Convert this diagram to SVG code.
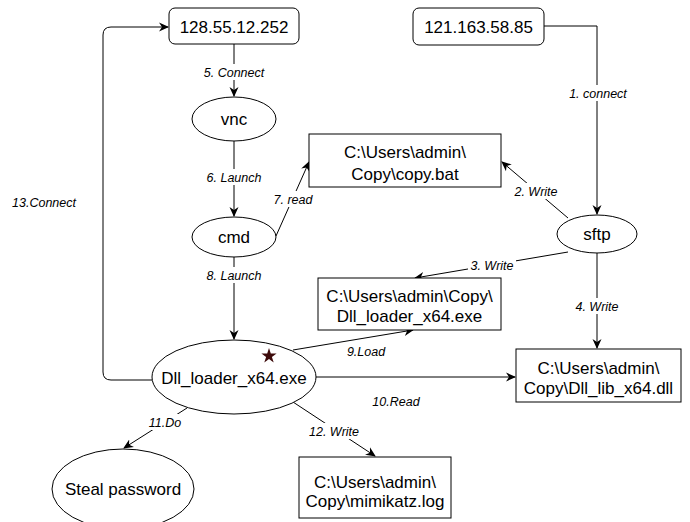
<svg xmlns="http://www.w3.org/2000/svg" width="690" height="522" viewBox="0 0 690 522">
  <style>
    .shape { fill: #ffffff; stroke: #000000; stroke-width: 1; }
    .node-text { font-family: "Liberation Sans", Arial, sans-serif; font-size: 17px; fill: #000000; text-anchor: middle; }
    .edge { fill: none; stroke: #000000; stroke-width: 1; }
    .edge-label { font-family: "Liberation Sans", Arial, sans-serif; font-size: 12.5px; font-style: italic; fill: #000000; text-anchor: middle; }
    .label-bg { fill: #ffffff; }
  </style>
  <defs>
    <marker id="arrow" viewBox="0 0 10 10" refX="9" refY="5" markerWidth="10" markerHeight="10" markerUnits="userSpaceOnUse" orient="auto">
      <path d="M0,0.5 L10,5 L0,9.5 L3,5 Z" fill="#000000"/>
    </marker>
  </defs>
  <rect width="690" height="522" fill="#ffffff"/>

  <!-- connectors -->
  <g id="connectors">
    <path class="edge" d="M234,44 L234,96" marker-end="url(#arrow)"/>
    <path class="edge" d="M544,26 L597,26 L597,214" marker-end="url(#arrow)"/>
    <path class="edge" d="M234,141 L234,216" marker-end="url(#arrow)"/>
    <path class="edge" d="M276,236 L309,162" marker-end="url(#arrow)"/>
    <path class="edge" d="M568,218 L502,162" marker-end="url(#arrow)"/>
    <path class="edge" d="M568,252 L415,278" marker-end="url(#arrow)"/>
    <path class="edge" d="M597,253 L597,348" marker-end="url(#arrow)"/>
    <path class="edge" d="M234,257 L234,339" marker-end="url(#arrow)"/>
    <path class="edge" d="M293,350 L413,330" marker-end="url(#arrow)"/>
    <path class="edge" d="M316,377 L515,377" marker-end="url(#arrow)"/>
    <path class="edge" d="M152,380 L111,380 Q103,380 103,372 L103,35 Q103,27 111,27 L168,27" marker-end="url(#arrow)"/>
    <path class="edge" d="M187,408 L124,448" marker-end="url(#arrow)"/>
    <path class="edge" d="M293,402 L375,456" marker-end="url(#arrow)"/>

    <!-- connector labels -->
    <rect class="label-bg" x="200" y="64" width="68" height="16"/>
    <text class="edge-label" x="234" y="76.5">5. Connect</text>
    <rect class="label-bg" x="566" y="85" width="64" height="16"/>
    <text class="edge-label" x="598" y="97.5">1. connect</text>
    <rect class="label-bg" x="204" y="169" width="60" height="16"/>
    <text class="edge-label" x="234" y="181.5">6. Launch</text>
    <rect class="label-bg" x="272" y="191" width="42" height="16"/>
    <text class="edge-label" x="293" y="203.5">7. read</text>
    <rect class="label-bg" x="512" y="183" width="48" height="16"/>
    <text class="edge-label" x="536" y="195.5">2. Write</text>
    <rect class="label-bg" x="468" y="257" width="48" height="16"/>
    <text class="edge-label" x="492" y="269.5">3. Write</text>
    <rect class="label-bg" x="573" y="298" width="48" height="16"/>
    <text class="edge-label" x="597" y="310.5">4. Write</text>
    <rect class="label-bg" x="204" y="267" width="60" height="16"/>
    <text class="edge-label" x="234" y="279.5">8. Launch</text>
    <text class="edge-label" x="366" y="355.5">9.Load</text>
    <text class="edge-label" x="396" y="405.5">10.Read</text>
    <text class="edge-label" x="44" y="206.5">13.Connect</text>
    <rect class="label-bg" x="146" y="414" width="38" height="16"/>
    <text class="edge-label" x="165" y="426.5">11.Do</text>
    <rect class="label-bg" x="304" y="423" width="60" height="16"/>
    <text class="edge-label" x="334" y="435.5">12. Write</text>
  </g>

  <g id="ip-128">
    <rect class="shape" x="169" y="8" width="130" height="36" rx="6"/>
    <text class="node-text" x="234" y="33">128.55.12.252</text>
  </g>
  <g id="ip-121">
    <rect class="shape" x="413" y="8" width="131" height="37" rx="6"/>
    <text class="node-text" x="478.5" y="33">121.163.58.85</text>
  </g>
  <g id="vnc">
    <ellipse class="shape" cx="234" cy="119" rx="42" ry="22"/>
    <text class="node-text" x="234" y="125">vnc</text>
  </g>
  <g id="cmd">
    <ellipse class="shape" cx="234" cy="237" rx="42" ry="20"/>
    <text class="node-text" x="234" y="243">cmd</text>
  </g>
  <g id="sftp">
    <ellipse class="shape" cx="597" cy="234" rx="40" ry="19"/>
    <text class="node-text" x="597" y="240">sftp</text>
  </g>
  <g id="copy-bat">
    <rect class="shape" x="309" y="134" width="192" height="53"/>
    <text class="node-text" x="405" y="158">C:\Users\admin\</text>
    <text class="node-text" x="405" y="180">Copy\copy.bat</text>
  </g>
  <g id="loader-file">
    <rect class="shape" x="318" y="278" width="183" height="52"/>
    <text class="node-text" x="409.5" y="302">C:\Users\admin\Copy\</text>
    <text class="node-text" x="409.5" y="322">Dll_loader_x64.exe</text>
  </g>
  <g id="lib-file">
    <rect class="shape" x="516" y="349" width="165" height="53"/>
    <text class="node-text" x="598.5" y="374">C:\Users\admin\</text>
    <text class="node-text" x="598.5" y="394">Copy\Dll_lib_x64.dll</text>
  </g>
  <g id="dll-loader">
    <ellipse class="shape" cx="234" cy="377" rx="82" ry="37"/>
    <text class="node-text" x="234" y="384">Dll_loader_x64.exe</text>
    <path d="M269,348 L270.8,353.5 L276.6,353.5 L271.9,356.9 L273.7,362.4 L269,359 L264.3,362.4 L266.1,356.9 L261.4,353.5 L267.2,353.5 Z" fill="#3d0a0a"/>
  </g>
  <g id="steal-password">
    <ellipse class="shape" cx="123" cy="489" rx="71" ry="40"/>
    <text class="node-text" x="123" y="495">Steal password</text>
  </g>
  <g id="mimikatz-log">
    <rect class="shape" x="299" y="457" width="152" height="61"/>
    <text class="node-text" x="375" y="488">C:\Users\admin\</text>
    <text class="node-text" x="375" y="507">Copy\mimikatz.log</text>
  </g>
</svg>
